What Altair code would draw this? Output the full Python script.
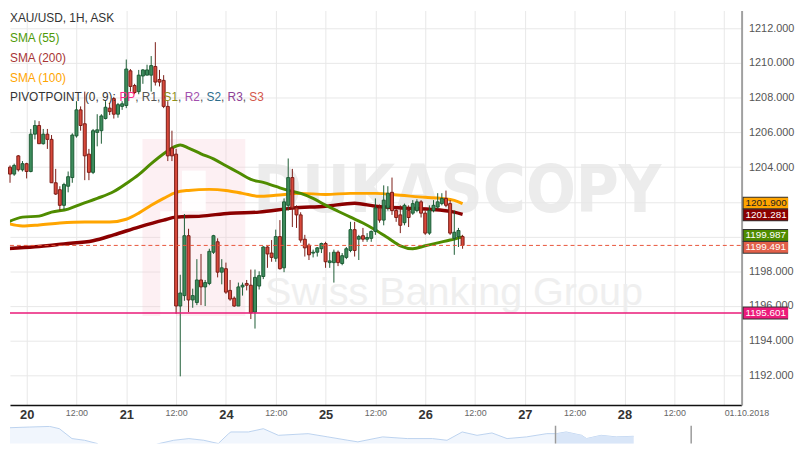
import json
import altair as alt
import pandas as pd

# ---------------- data ----------------
hours = list(range(-4, 106))
opens = [
    1204.0, 1203.6, 1204.65, 1203.85, 1204.2, 1203.75, 1205.9, 1206.4, 1205.35, 1205.9,
    1205.6, 1203.1, 1202.7, 1201.8, 1202.9, 1203.4, 1205.8, 1207.3, 1206.5, 1204.75,
    1203.7, 1206.0, 1206.1, 1206.8, 1207.4, 1207.95, 1207.05, 1207.5, 1207.55, 1209.55,
    1208.7, 1208.35, 1209.25, 1209.3, 1209.3, 1209.8, 1209.05, 1209.0, 1207.5, 1205.1,
    1204.75, 1196.0, 1196.6, 1200.05, 1196.35, 1196.2, 1197.5, 1197.1, 1197.3, 1199.1,
    1199.7, 1197.95, 1198.15, 1196.9, 1196.45, 1196.0, 1197.1, 1197.3, 1197.2, 1195.65,
    1197.15, 1197.7, 1199.4, 1199.05, 1198.75, 1200.0, 1198.2, 1201.8, 1203.4, 1201.65,
    1201.25, 1199.85, 1199.5, 1199.05, 1199.1, 1199.3, 1199.6, 1198.5, 1198.5, 1199.1,
    1198.45, 1198.8, 1199.2, 1200.4, 1199.85, 1200.05, 1199.85, 1199.9, 1200.3, 1201.65,
    1200.95, 1201.65, 1202.55, 1201.5, 1201.25, 1200.8, 1201.5, 1201.35, 1201.5, 1202.0,
    1201.35, 1200.2, 1201.5, 1201.7, 1201.9, 1202.2, 1201.9, 1199.9, 1200.0, 1200.0,
]
highs = [
    1204.1, 1204.2, 1204.7, 1204.35, 1204.25, 1206.2, 1206.7, 1206.65, 1206.2, 1206.2,
    1205.85, 1203.9, 1202.9, 1203.1, 1203.75, 1205.95, 1207.8, 1207.5, 1208.35, 1205.05,
    1206.2, 1207.05, 1207.05, 1207.8, 1207.7, 1208.05, 1207.7, 1207.8, 1210.2, 1209.65,
    1208.8, 1209.6, 1209.65, 1209.9, 1210.4, 1211.2, 1209.6, 1209.3, 1207.8, 1206.1,
    1205.05, 1197.8, 1201.3, 1200.45, 1197.0, 1198.7, 1199.0, 1197.5, 1199.3, 1200.1,
    1199.9, 1198.7, 1198.5, 1197.5, 1196.55, 1197.35, 1197.35, 1197.5, 1198.1, 1198.1,
    1198.0, 1199.45, 1199.45, 1199.8, 1200.4, 1200.95, 1202.2, 1204.5, 1203.9, 1201.8,
    1201.4, 1200.1, 1199.6, 1199.25, 1199.4, 1199.65, 1199.7, 1199.1, 1199.25, 1199.2,
    1199.05, 1199.4, 1200.85, 1200.85, 1200.1, 1200.5, 1200.2, 1200.35, 1202.2, 1201.85,
    1202.95, 1202.9, 1203.4, 1201.6, 1201.8, 1201.9, 1201.8, 1202.1, 1202.15, 1202.1,
    1201.5, 1201.8, 1202.1, 1202.5, 1202.5, 1202.65, 1202.1, 1201.5, 1200.5, 1200.1,
]
lows = [
    1203.1, 1203.5, 1203.75, 1203.75, 1203.35, 1203.7, 1205.6, 1205.35, 1205.3, 1205.05,
    1203.1, 1202.4, 1201.5, 1201.55, 1202.55, 1203.1, 1205.7, 1206.1, 1203.25, 1203.25,
    1203.6, 1205.2, 1205.35, 1206.75, 1207.0, 1206.8, 1206.85, 1207.3, 1207.4, 1208.35,
    1208.2, 1208.2, 1208.8, 1209.3, 1208.35, 1208.7, 1208.65, 1207.4, 1204.35, 1204.35,
    1195.55, 1191.95, 1196.3, 1195.65, 1195.9, 1196.05, 1196.05, 1196.0, 1197.2, 1199.0,
    1197.65, 1197.25, 1196.7, 1196.3, 1195.95, 1196.0, 1196.6, 1196.9, 1195.25, 1194.7,
    1196.95, 1197.55, 1198.2, 1198.55, 1198.55, 1198.1, 1197.95, 1201.5, 1200.55, 1200.5,
    1199.65, 1198.85, 1198.65, 1198.8, 1198.85, 1199.05, 1198.2, 1198.2, 1197.35, 1198.3,
    1198.35, 1198.7, 1199.1, 1198.85, 1198.65, 1199.7, 1199.7, 1199.7, 1200.1, 1200.8,
    1200.65, 1201.5, 1201.25, 1200.85, 1200.2, 1200.65, 1200.55, 1201.25, 1201.4, 1201.1,
    1200.1, 1200.1, 1201.4, 1201.6, 1201.8, 1201.7, 1200.1, 1198.95, 1199.4, 1199.3,
]
closes = [
    1203.6, 1204.1, 1203.85, 1204.2, 1203.75, 1205.9, 1206.4, 1205.35, 1205.9, 1205.6,
    1203.1, 1202.45, 1201.8, 1203.0, 1203.45, 1205.85, 1207.3, 1206.4, 1204.65, 1203.7,
    1206.1, 1206.15, 1206.95, 1207.45, 1207.2, 1207.05, 1207.6, 1207.65, 1209.65, 1208.65,
    1208.3, 1209.3, 1209.6, 1209.6, 1209.85, 1208.9, 1208.9, 1207.5, 1204.65, 1204.65,
    1196.0, 1196.75, 1200.05, 1196.35, 1196.6, 1197.5, 1197.1, 1197.35, 1199.15, 1200.05,
    1197.95, 1198.2, 1196.8, 1196.4, 1196.0, 1197.1, 1197.2, 1197.2, 1195.6, 1197.65,
    1197.75, 1199.4, 1199.0, 1198.8, 1200.0, 1198.15, 1202.0, 1203.4, 1201.65, 1201.25,
    1199.8, 1199.35, 1198.95, 1199.1, 1199.35, 1199.6, 1198.55, 1198.6, 1199.1, 1198.5,
    1198.9, 1199.3, 1200.4, 1199.2, 1200.0, 1199.85, 1199.95, 1200.3, 1201.65, 1200.95,
    1202.1, 1202.5, 1201.5, 1201.1, 1200.65, 1201.8, 1201.1, 1201.9, 1202.0, 1201.35,
    1200.2, 1201.5, 1201.8, 1202.0, 1202.2, 1201.8, 1200.2, 1200.25, 1200.35, 1199.49,
]

sma55_h = [-5, -1, 3, 6, 10, 13, 17, 21, 24, 27, 30, 33, 35, 37, 39, 42, 45, 48, 51, 54, 57,
           60, 63, 66, 69, 72, 75, 78, 81, 84, 87, 90, 93, 96, 99, 102, 105]
sma55_v = [1200.78, 1201.12, 1201.18, 1201.41, 1201.58, 1201.86, 1202.2, 1202.6, 1203.06,
           1203.57, 1204.2, 1204.77, 1205.1, 1205.28, 1205.1, 1204.77, 1204.48, 1204.08,
           1203.69, 1203.29, 1203.12, 1202.89, 1202.66, 1202.49, 1202.2, 1201.81, 1201.46,
           1201.12, 1200.78, 1200.38, 1199.93, 1199.47, 1199.3, 1199.47, 1199.64, 1199.8,
           1199.987]

sma100_h = [-5, -1, 3, 8, 14, 20, 24, 27, 30, 33, 36, 39, 44, 48, 52, 56, 60, 66, 72, 78,
            84, 90, 96, 100, 103, 105]
sma100_v = [1200.78, 1200.61, 1200.67, 1200.78, 1200.84, 1200.84, 1201.0, 1201.35, 1201.8,
            1202.2, 1202.55, 1202.66, 1202.72, 1202.66, 1202.49, 1202.32, 1202.38, 1202.49,
            1202.43, 1202.49, 1202.49, 1202.38, 1202.26, 1202.2, 1202.09, 1201.9]

sma200_h = [-5, 2, 9, 16, 21, 27, 33, 36, 42, 49, 56, 64, 72, 79, 84, 91, 97, 103, 105]
sma200_v = [1199.3, 1199.41, 1199.58, 1199.76, 1200.1, 1200.55, 1200.95, 1201.12, 1201.18,
            1201.35, 1201.41, 1201.64, 1201.75, 1201.92, 1201.75, 1201.64, 1201.58, 1201.41,
            1201.281]

last_price = 1199.491
pivot_s1 = 1195.601

day_labels = ['20', '21', '24', '25', '26', '27', '28', '01.10.2018']
y_ticks = list(range(1192, 1213, 2))
x_ticks = list(range(0, 169, 12))

# navigator (overview) series
nav_t = [0, 20.5, 41, 51, 64, 77, 90, 102.5, 110, 123, 138.5, 154, 169, 184.6, 200, 215,
         225.6, 228, 246, 261.5, 277, 307.7, 328, 348.7, 359, 384.6, 410, 436, 451, 466.7,
         482, 497.4, 513, 533, 554, 564, 574, 590, 595, 610, 625.6, 643.6]
nav_v = [1214.0, 1214.35, 1214.65, 1213.5, 1208.5, 1207.65, 1206.0, 1201.0, 1200.15,
         1201.85, 1203.5, 1206.0, 1207.65, 1208.5, 1207.65, 1206.0, 1211.0, 1211.85, 1211.85,
         1213.5, 1210.15, 1211.0, 1209.35, 1207.65, 1206.85, 1209.35, 1208.5, 1208.5,
         1207.65, 1211.85, 1210.15, 1211.35, 1208.5, 1209.35, 1211.0, 1211.0, 1211.85,
         1210.15, 1208.5, 1210.15, 1209.35, 1209.65]
nav_window = [563, 645]
nav_marker = 703

# ---------------- layout (page is offset by an 8px body margin) ----------------
OFF = 8
W, H = 740, 399
xscale = alt.Scale(domain=[-2.82, 171.01], nice=False, zero=False)
yscale = alt.Scale(domain=[1190.30, 1213.025], nice=False, zero=False)
BASE_FONT = 'Liberation Sans, Arial, sans-serif'

day_test = "datum.value % 24 == 0 && datum.value < 168"
label_expr = ("datum.value % 24 == 0 ? " + json.dumps(day_labels).replace('"', "'") +
              "[datum.value / 24] : '12:00'")

x_axis = alt.Axis(
    values=x_ticks, labelExpr=label_expr, grid=True, gridColor='#e8e8e8', ticks=False,
    domainColor='#111111', domainWidth=1.5, labelPadding=4, labelFlush=False,
    labelOverlap=False, title=None, labelFont=BASE_FONT,
    labelFontSize={"condition": {"test": day_test, "value": 13}, "value": 9},
    labelColor={"condition": {"test": day_test, "value": "#333333"}, "value": "#666666"},
    labelFontWeight={"condition": {"test": day_test, "value": "bold"}, "value": "normal"},
    labelAlign={"condition": {"test": "datum.value == 168", "value": "left"}, "value": "center"},
)
y_axis = alt.Axis(
    orient='right', values=y_ticks,
    labelExpr="(datum.value == 1200 || datum.value == 1202) ? '' : format(datum.value, '.3f')",
    grid=True, gridColor='#e8e8e8', ticks=False, domainColor='#a0a0a0', domainWidth=2,
    labelPadding=7, title=None, labelFont=BASE_FONT, labelFontSize=11, labelColor='#555555',
)


def X(field):
    return alt.X(field, type='quantitative', scale=xscale, axis=x_axis)


def Y(field):
    return alt.Y(field, type='quantitative', scale=yscale, axis=y_axis)


blank = alt.Data(values=[{}])


def rect(x1, x2, y1, y2, color, opacity):
    return alt.Chart(blank).mark_rect(color=color, opacity=opacity).encode(
        x=alt.value(x1 - OFF), x2=alt.value(x2 - OFF), y=alt.value(y1 - OFF), y2=alt.value(y2 - OFF))


# ---------------- watermark ----------------
wm = [
    rect(142, 246, 138, 317, '#f7c5cf', 0.25),
    rect(182, 206, 170, 211, '#ffffff', 0.9),
    rect(160, 176, 211, 317, '#ffffff', 0.9),
    alt.Chart(blank).mark_text(
        text='DUKASCOPY', font='DejaVu Sans Condensed, Liberation Sans, sans-serif',
        fontWeight='bold', fontSize=66, color='#e9e9e9', align='left',
        baseline='alphabetic', opacity=0.85).encode(x=alt.value(254 - OFF), y=alt.value(212 - OFF)),
    alt.Chart(blank).mark_text(
        text='Swiss Banking Group', font=BASE_FONT, fontSize=40,
        color='#eeeeee', align='left', baseline='alphabetic', opacity=0.9).encode(
        x=alt.value(266 - OFF), y=alt.value(306 - OFF)),
]

# ---------------- series ----------------
candles = pd.DataFrame({'h': hours, 'open': opens, 'high': highs, 'low': lows, 'close': closes})
candles['dir'] = ['up' if c >= o else 'down' for o, c in zip(opens, closes)]

stroke_scale = alt.Scale(domain=['up', 'down'], range=['#1d5c35', '#7b1c16'])
fill_scale = alt.Scale(domain=['up', 'down'], range=['#3d8c5c', '#d8493b'])

wicks = alt.Chart(candles).mark_rule(strokeWidth=1).encode(
    x=X('h'), y=Y('low'), y2='high',
    stroke=alt.Stroke('dir:N', scale=stroke_scale, legend=None))
bodies = alt.Chart(candles).mark_bar(size=3, strokeWidth=1).encode(
    x=X('h'), y=Y('open'), y2='close',
    color=alt.Color('dir:N', scale=fill_scale, legend=None),
    stroke=alt.Stroke('dir:N', scale=stroke_scale, legend=None))


def sma(hs, vs, color, width):
    df = pd.DataFrame({'h': hs, 'v': vs})
    return alt.Chart(df).mark_line(color=color, strokeWidth=width, interpolate='monotone',
                                   clip=True).encode(x=X('h'), y=Y('v'))


sma200 = sma(sma200_h, sma200_v, '#8b0000', 3.5)
sma100 = sma(sma100_h, sma100_v, '#ffa500', 3)
sma55 = sma(sma55_h, sma55_v, '#4f8c00', 3)

hlines = [
    alt.Chart(alt.Data(values=[{'v': last_price}])).mark_rule(
        color='#e8553b', strokeWidth=1, strokeDash=[4, 3]).encode(
        y=Y('v'), x=alt.value(0), x2=alt.value(W)),
    alt.Chart(alt.Data(values=[{'v': pivot_s1}])).mark_rule(
        color='#ea1a78', strokeWidth=1.5).encode(
        y=Y('v'), x=alt.value(0), x2=alt.value(W)),
]

# ---------------- legend text ----------------


def txt(text, x, y, color, size=12):
    return alt.Chart(blank).mark_text(
        text=text, font=BASE_FONT, fontSize=size, color=color, align='left',
        baseline='middle').encode(x=alt.value(max(x - OFF, 0)), y=alt.value(y - OFF))


legend = [
    txt('XAU/USD, 1H, ASK', 5, 16, '#333333'),
    txt('SMA (55)', 5, 36, '#4e9a06'),
    txt('SMA (200)', 5, 56, '#a83434'),
    txt('SMA (100)', 5, 76, '#ffa500'),
]
pivot_parts = [('PIVOTPOINT (0, 9): ', '#333333'), ('PP', '#ff2a8c'), (', R1, ', '#555555'),
               ('S1', '#8f8f1a'), (', ', '#555555'), ('R2', '#a24fae'), (', ', '#555555'),
               ('S2', '#2d6d8d'), (', ', '#555555'), ('R3', '#8e3f96'), (', ', '#555555'),
               ('S3', '#d4574a')]
arial = {'P': .667, 'I': .278, 'V': .667, 'O': .778, 'T': .611, 'N': .722, ' ': .278,
         '(': .333, ')': .333, '0': .556, '9': .556, '1': .556, '2': .556, '3': .556,
         ',': .278, ':': .278, 'R': .722, 'S': .667}
px = 8.0
for t, c in pivot_parts:
    legend.append(txt(t, px, 96, c))
    px += 12 * sum(arial.get(ch, .556) for ch in t)

# ---------------- value boxes on the price axis ----------------
# (value, fill, text colour, small vertical nudge so that stacked boxes stay readable)
boxes = [(1201.900, '#ffa500', '#222222', -0.5), (1201.281, '#8b0000', '#ffffff', 0.5),
         (1199.987, '#4f8c00', '#ffffff', -1.5), (last_price, '#e2604a', '#ffffff', 2),
         (pivot_s1, '#ec1a7a', '#ffffff', 0)]
RIGHT = 795 - OFF          # keep the whole figure inside the page body (no scrollbars)
box_layers = []
for v, fill, tcol, nudge in boxes:
    d = alt.Data(values=[{'v': v}])
    box_layers.append(alt.Chart(d).mark_rule(color='#333333', strokeWidth=13, strokeCap='butt',
                                             yOffset=nudge)
                      .encode(y=Y('v'), x=alt.value(W + 1), x2=alt.value(RIGHT)))
    box_layers.append(alt.Chart(d).mark_rule(color=fill, strokeWidth=11, strokeCap='butt',
                                             yOffset=nudge)
                      .encode(y=Y('v'), x=alt.value(W + 2), x2=alt.value(RIGHT)))
    box_layers.append(alt.Chart(d).mark_text(font=BASE_FONT, fontSize=10, color=tcol,
                                             align='left', baseline='middle', dy=nudge)
                      .encode(y=Y('v'), x=alt.value(W + 4), text=alt.Text('v:Q', format='.3f')))

main = alt.layer(*wm, sma200, sma100, sma55, wicks, bodies, *hlines, *legend, *box_layers
                 ).properties(width=W, height=H)

# ---------------- navigator ----------------
NAV_H = 18
nav_df = pd.DataFrame({'t': nav_t, 'v': nav_v})
nx = alt.X('t:Q', scale=alt.Scale(domain=[0, 803], nice=False, zero=False), axis=None)
ny = alt.Y('v:Q', scale=alt.Scale(domain=[1215 - NAV_H * 0.5, 1215], nice=False, zero=False),
           axis=None)
nav_area = alt.Chart(nav_df).mark_area(
    color='#ebf2fc', clip=True, line={'color': '#bcd2ef', 'strokeWidth': 1}).encode(x=nx, y=ny)
nav_sel = alt.Chart(nav_df).transform_filter(
    alt.datum.t >= nav_window[0]).mark_area(color='#d9e6f8', clip=True).encode(x=nx, y=ny)
nav_lines = alt.Chart(alt.Data(values=[{'t': nav_window[0]}, {'t': nav_marker}])).mark_rule(
    color='#9a9a9a', strokeWidth=1.5).encode(x=nx, y=alt.value(0), y2=alt.value(NAV_H))
nav = alt.layer(nav_area, nav_sel, nav_lines).properties(width=RIGHT, height=NAV_H)

chart = alt.vconcat(main, nav, spacing=3).resolve_scale(
    x='independent', y='independent').properties(
    padding=0, background='white').configure_view(strokeWidth=0)

chart.save("out.html", embed_options={"renderer": "svg", "actions": False})
